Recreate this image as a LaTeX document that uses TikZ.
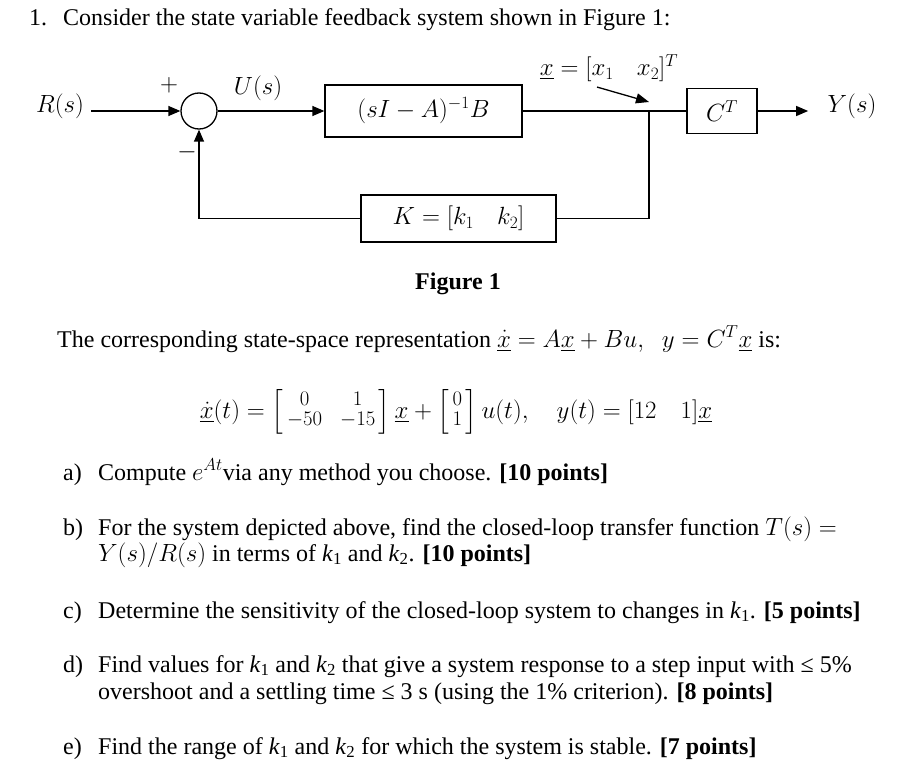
\documentclass[tikz,border=0pt]{standalone}
\usepackage{amsmath}
\usepackage{fontspec}
\setmainfont{Liberation Serif}
\usetikzlibrary{arrows.meta}

\newcommand{\entries}[2]{\left[\vcenter{\hbox{\fontsize{22}{22}\selectfont\renewcommand{\arraystretch}{0.92}$\begin{array}{@{\,}#1@{\,}}#2\end{array}$}}\right]}

\begin{document}
\begin{tikzpicture}[x=1pt, y=-1pt,
        block/.style={draw, line width=1.3pt, inner sep=0pt, font=\fontsize{23}{27}\selectfont},
        sumnode/.style={circle, draw, line width=1.3pt, minimum size=36pt, inner sep=0pt},
        sig/.style={-{Triangle[length=12pt, width=10pt]}, line width=1.3pt},
        wire/.style={line width=1.3pt},
        lbl/.style={font=\fontsize{23}{27}\selectfont},
        txt/.style={anchor=base west, inner sep=0pt, font=\fontsize{24}{28}\selectfont}]
      \useasboundingbox (0,0) rectangle (897,773);

      % Question
      \node[txt] (num) at (29,26) {1.};
      \node[txt] (intro) at (63,26) {Consider the state variable feedback system shown in Figure 1:};

      % Block diagram
      \node[lbl] (R) at (60,106) {$R(s)$};
      \node[sumnode] (sum) at (199,111) {};
      \node[block, minimum width=197pt, minimum height=52pt] (plant) at (423.5,111) {$(sI-A)^{-1}B$};
      \node[block, minimum width=70pt, minimum height=45pt] (out) at (722,111) {$C^T$};
      \node[lbl] (Y) at (852,106) {$Y(s)$};
      \node[block, minimum width=195pt, minimum height=47pt] (gain) at (458.5,218.5) {$K=[k_1\quad k_2]$};
      \coordinate (split) at (649,111);
      \node[lbl] (plus) at (169,85) {$+$};
      \node[lbl] (minus) at (187,152) {$-$};
      \node[lbl] (U) at (258,88) {$U(s)$};
      \node[lbl] (state) at (609,68) {$\underline{x}=[x_1\quad x_2]^T$};

      \draw[sig, shorten <=4pt] (R.east |- sum.west) -- (sum.west);
      \draw[sig] (sum.east) -- (plant.west);
      \draw[wire] (plant.east) -- (out.west);
      \draw[sig, shorten >=16pt] (out.east) -- (Y.west |- out.east);
      \draw[wire] (split) |- (gain.east);
      \draw[sig] (gain.west) -| (sum.south);
      \draw[-{Triangle[length=13pt, width=10pt]}, line width=1.3pt] ([xshift=-12pt, yshift=-2pt]state.south) -- ([yshift=9pt]split);

      \node[font=\bfseries\fontsize{24}{28}\selectfont] (caption) at (458,284) {Figure 1};

      % State-space model
      \node[txt] (model) at (57,347) {The corresponding state-space representation $\underline{\dot{x}}=A\underline{x}+Bu,\;\;y=C^T\underline{x}$ is:};
      \node[txt, anchor=base] (eqn) at (456,418) {$\underline{\dot{x}}(t)=\entries{c@{\hspace{18pt}}c}{0&1\\-50&-15}\underline{x}+\entries{c}{0\\1}u(t),\quad y(t)=[12\quad 1]\underline{x}$};

      % Parts
      \node[txt] (pa) at (63,480) {a)};
      \node[txt] (qa) at (98,480) {Compute $e^{At}$via any method you choose. \textbf{[10 points]}};
      \node[txt] (pb) at (63,535) {b)};
      \node[txt] (qb) at (98,535) {For the system depicted above, find the closed-loop transfer function $T(s)=$};
      \node[txt] (qb2) at (98,561) {$Y(s)/R(s)$ in terms of \textit{k}\textsubscript{1} and \textit{k}\textsubscript{2}. \textbf{[10 points]}};
      \node[txt] (pc) at (63,618) {c)};
      \node[txt] (qc) at (98,618) {Determine the sensitivity of the closed-loop system to changes in \textit{k}\textsubscript{1}. \textbf{[5 points]}};
      \node[txt] (pd) at (63,672) {d)};
      \node[txt] (qd) at (98,672) {Find values for \textit{k}\textsubscript{1} and \textit{k}\textsubscript{2} that give a system response to a step input with ≤ 5\%};
      \node[txt] (qd2) at (98,699) {overshoot and a settling time ≤ 3 s (using the 1\% criterion). \textbf{[8 points]}};
      \node[txt] (pe) at (63,754) {e)};
      \node[txt] (qe) at (98,754) {Find the range of \textit{k}\textsubscript{1} and \textit{k}\textsubscript{2} for which the system is stable. \textbf{[7 points]}};
    \end{tikzpicture}
\end{document}
